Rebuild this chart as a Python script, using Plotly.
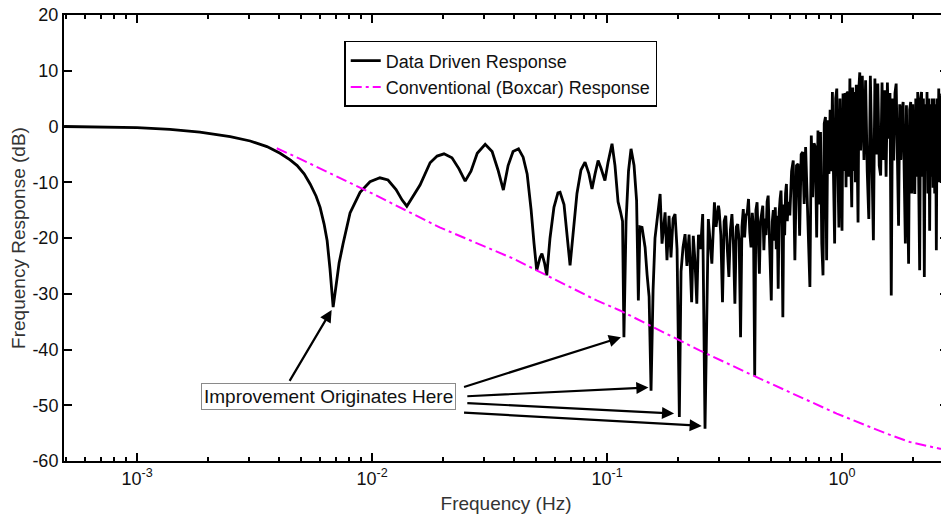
import math
import plotly.graph_objects as go

# Data driven filter response.
# low band: smooth roll-off and first side lobes (up to ~0.3 Hz)
freq_low_hz = [
    4.89e-4, 6.97e-4, 1.0e-3, 1.38e-3, 1.85e-3, 2.49e-3, 3.03e-3, 3.57e-3, 4.06e-3, 4.48e-3,
    4.80e-3, 5.14e-3, 5.45e-3, 5.78e-3, 6.01e-3, 6.25e-3, 6.44e-3, 6.62e-3, 6.83e-3, 7.03e-3,
    7.24e-3, 7.53e-3, 8.06e-3, 8.89e-3, 9.80e-3, 0.0108, 0.01169, 0.01265, 0.01343, 0.01406,
    0.01493, 0.0160, 0.01766, 0.01892, 0.02024, 0.02188, 0.02344, 0.0249, 0.02636, 0.02803,
    0.0303, 0.03243, 0.03436, 0.0362, 0.03793, 0.03981, 0.0420, 0.04395, 0.04571, 0.04753,
    0.0489, 0.0502, 0.05188, 0.05284, 0.0542, 0.0554, 0.05719, 0.05943, 0.0618, 0.0631,
    0.06561, 0.06761, 0.0696, 0.07161, 0.07447, 0.07745, 0.0806, 0.08375, 0.0863, 0.08892,
    0.09162, 0.09427, 0.09795, 0.1009, 0.1050, 0.1081, 0.1114, 0.1141, 0.1164, 0.1180,
    0.1205, 0.1234, 0.1265, 0.1303, 0.1336, 0.1359, 0.1381, 0.1409, 0.1452, 0.1480,
    0.1510, 0.1539, 0.1570, 0.1600, 0.1641, 0.1682, 0.1714, 0.1766, 0.1799, 0.1836,
    0.1871, 0.1910, 0.1947, 0.1986, 0.2031, 0.2065, 0.2105, 0.2148, 0.2188, 0.2234,
    0.2291, 0.2328, 0.2366, 0.2410, 0.2449, 0.2500, 0.2553, 0.2612, 0.2698, 0.2742,
    0.2793, 0.2864, 0.2911, 0.2979,
]
resp_low_db = [
    0.0, -0.1, -0.2, -0.5, -1.0, -1.8, -2.6, -3.6, -4.8, -6.0,
    -7.0, -8.5, -10.3, -12.5, -14.5, -17.5, -20.5, -25.5, -32.4, -28.5,
    -24.5, -21.0, -15.5, -11.8, -9.9, -9.2, -9.6, -11.3, -13.2, -14.3,
    -12.6, -10.5, -6.5, -5.3, -4.9, -5.6, -7.6, -9.8, -8.0, -4.8,
    -3.2, -4.5, -7.8, -11.4, -7.0, -4.5, -4.0, -5.5, -8.5, -15.0,
    -21.0, -25.8, -23.5, -22.8, -24.5, -26.7, -20.0, -14.5, -11.9, -11.8,
    -14.0, -19.0, -24.9, -19.5, -12.0, -7.8, -6.4, -8.5, -11.2, -8.5,
    -6.1, -7.5, -9.7, -6.5, -3.1, -7.0, -13.5, -15.3, -17.0, -37.8,
    -17.0, -8.0, -4.0, -7.0, -13.3, -31.2, -18.0, -18.1, -21.7, -26.5,
    -30.5, -47.4, -29.4, -20.0, -15.5, -12.1, -21.0, -15.4, -24.0, -16.0,
    -23.5, -16.5, -15.7, -22.0, -52.1, -26.0, -21.7, -19.3, -25.0, -19.4,
    -31.5, -19.6, -24.0, -31.8, -19.4, -22.0, -15.7, -54.2, -16.6, -20.0,
    -24.6, -13.6, -18.0, -14.2,
]

# mid band: 0.30 - 0.595 Hz
freq_mid_hz = [
    0.300, 0.305, 0.310, 0.315, 0.320, 0.325, 0.330, 0.335, 0.340, 0.345,
    0.350, 0.355, 0.360, 0.365, 0.370, 0.375, 0.380, 0.385, 0.390, 0.395,
    0.400, 0.405, 0.410, 0.415, 0.420, 0.425, 0.430, 0.435, 0.440, 0.445,
    0.450, 0.455, 0.460, 0.465, 0.470, 0.475, 0.480, 0.485, 0.490, 0.495,
    0.500, 0.505, 0.510, 0.515, 0.520, 0.525, 0.530, 0.535, 0.540, 0.545,
    0.550, 0.555, 0.560, 0.565, 0.570, 0.575, 0.580, 0.585, 0.590, 0.595,
]
resp_mid_db = [
    -15.0, -19.5, -31.5, -17.0, -16.0, -22.0, -27.0, -18.5, -15.7, -21.0,
    -31.8, -18.0, -17.5, -20.5, -37.8, -18.0, -14.8, -19.9, -16.0, -15.5,
    -13.0, -19.0, -21.7, -15.5, -18.0, -44.7, -15.0, -13.6, -20.0, -26.4,
    -17.0, -15.0, -14.2, -22.2, -16.5, -19.5, -13.5, -12.4, -18.0, -24.0,
    -31.2, -17.0, -15.0, -20.5, -14.5, -22.0, -16.0, -29.1, -15.5, -13.0,
    -11.5, -18.0, -34.2, -14.0, -19.5, -12.0, -10.3, -17.0, -13.5, -15.7,
]

# rising band: 0.60 - 1.19 Hz
freq_rise_hz = [
    0.60, 0.61, 0.62, 0.63, 0.64, 0.65, 0.66, 0.67, 0.68, 0.69,
    0.70, 0.71, 0.72, 0.73, 0.74, 0.75, 0.76, 0.77, 0.78, 0.79,
    0.80, 0.81, 0.82, 0.83, 0.84, 0.85, 0.86, 0.87, 0.88, 0.89,
    0.90, 0.91, 0.92, 0.93, 0.94, 0.95, 0.96, 0.97, 0.98, 0.99,
    1.00, 1.01, 1.02, 1.03, 1.04, 1.05, 1.06, 1.07, 1.08, 1.09,
    1.10, 1.11, 1.12, 1.13, 1.14, 1.15, 1.16, 1.17, 1.18, 1.19,
]
resp_rise_db = [
    -15.7, -8.0, -6.1, -24.0, -7.0, -6.7, -19.6, -5.0, -4.6, -13.9,
    -3.7, -12.1, -23.4, -28.8, -1.6, -12.7, -3.0, -3.7, -19.9, -0.7,
    -14.0, -1.0, -21.0, -26.7, 0.5, 1.7, -24.0, 1.1, -8.5, 3.0,
    -8.0, 6.2, -9.0, -21.0, 5.0, 6.8, -8.0, -18.1, 5.0, -7.0,
    -18.7, 5.9, -8.0, 6.0, -10.9, 6.0, 6.2, -9.0, 8.6, -6.0,
    -14.5, 7.0, -8.0, 6.2, -10.0, 7.5, -6.0, -17.2, 7.0, 9.7,
]

# high band: 1.20 - 2.84 Hz
freq_high_hz = [
    1.20, 1.22, 1.24, 1.26, 1.28, 1.30, 1.32, 1.34, 1.36, 1.38,
    1.40, 1.42, 1.44, 1.46, 1.48, 1.50, 1.52, 1.54, 1.56, 1.58,
    1.60, 1.62, 1.64, 1.66, 1.68, 1.70, 1.72, 1.74, 1.76, 1.78,
    1.80, 1.82, 1.84, 1.86, 1.88, 1.90, 1.92, 1.94, 1.96, 1.98,
    2.00, 2.02, 2.04, 2.06, 2.08, 2.10, 2.12, 2.14, 2.16, 2.18,
    2.20, 2.22, 2.24, 2.26, 2.28, 2.30, 2.32, 2.34, 2.36, 2.38,
    2.40, 2.42, 2.44, 2.46, 2.48, 2.50, 2.52, 2.54, 2.56, 2.58,
    2.60, 2.62, 2.64, 2.66, 2.68, 2.70, 2.72, 2.74, 2.76, 2.78,
    2.80, 2.82, 2.84,
]
resp_high_db = [
    -4.3, 9.1, -6.0, 8.3, -8.0, -16.6, 9.1, -6.0, -20.4, 8.6,
    -5.0, 7.7, -7.0, -8.8, 7.9, -6.0, 6.5, -9.0, 7.9, -2.2,
    6.0, -30.3, 5.0, -6.1, 6.0, 7.7, -8.0, -17.8, 4.0, -6.0,
    2.9, 4.4, -9.0, -21.0, 3.8, -10.0, -24.6, 3.0, 4.4, -12.0,
    4.0, -8.0, -12.1, 5.0, -9.0, 6.2, -10.0, -25.8, 5.0, 6.2,
    -9.0, 5.0, -27.0, 4.0, -8.0, 6.2, -12.0, 5.0, -18.7, 4.0,
    -9.0, 5.0, -11.0, 5.0, -12.0, 4.0, -22.2, 5.0, -8.0, 6.8,
    -10.0, -8.5, 5.0, 5.9, -9.0, 5.0, -14.0, 6.0, -6.0, 6.0,
    10.3, -30.3, 4.0,
]

# Conventional boxcar response
boxcar_freq_hz = [0.00393, 0.00494, 0.0100, 0.0194, 0.0399, 0.0903, 0.1135,
                  0.2489, 0.4198, 0.9493, 1.549, 1.946, 2.612, 2.851]
boxcar_db = [-3.9, -5.8, -12.0, -18.1, -23.7, -31.2, -33.0,
             -40.2, -44.7, -51.5, -55.1, -56.6, -57.8, -58.0]

# annotation arrows: tail near the label box, tip on the response
arrow_tail_hz = [0.00442, 0.02427, 0.02506, 0.02506, 0.02427]
arrow_tail_db = [-45.9, -46.8, -48.4, -49.6, -51.3]
arrow_tip_hz = [0.00673, 0.1146, 0.1500, 0.1929, 0.2529]
arrow_tip_db = [-32.9, -37.8, -46.8, -51.5, -53.7]
label_hz = 0.00653
label_db = -48.5
label_text = "Improvement Originates Here"

freq_hz = freq_low_hz + freq_mid_hz + freq_rise_hz + freq_high_hz
response_db = resp_low_db + resp_mid_db + resp_rise_db + resp_high_db
assert len(freq_hz) == len(response_db)

FONT = "Arial, Liberation Sans, sans-serif"

fig = go.Figure()

fig.add_trace(go.Scatter(
    x=freq_hz, y=response_db, mode="lines",
    name="Data Driven Response",
    line=dict(color="black", width=2.8),
))

fig.add_trace(go.Scatter(
    x=boxcar_freq_hz, y=boxcar_db, mode="lines",
    name="Conventional (Boxcar) Response",
    line=dict(color="#ff00ff", width=2, dash="11px,4px,3px,4px"),
))

annotations = []
for th, td, hh, hd in zip(arrow_tail_hz, arrow_tail_db, arrow_tip_hz, arrow_tip_db):
    annotations.append(dict(
        x=math.log10(hh), y=hd, ax=math.log10(th), ay=td,
        xref="x", yref="y", axref="x", ayref="y",
        text="", showarrow=True, arrowhead=2, arrowsize=1.1,
        arrowwidth=2.2, arrowcolor="black", standoff=0,
    ))

annotations.append(dict(
    x=math.log10(label_hz), y=label_db, xref="x", yref="y",
    text=label_text, showarrow=False,
    font=dict(family=FONT, size=19, color="#111111"),
    bgcolor="white", bordercolor="#8a8a8a", borderwidth=1, borderpad=2,
))

decades = [0.001, 0.01, 0.1, 1]
decade_labels = ["10<sup>-3</sup>", "10<sup>-2</sup>", "10<sup>-1</sup>", "10<sup>0</sup>"]
db_ticks = [-60, -50, -40, -30, -20, -10, 0, 10, 20]

# the page body adds an 8px offset, margins compensate for it
fig.update_layout(
    width=949, height=519,
    margin=dict(l=56, r=9, t=7, b=66),
    paper_bgcolor="white", plot_bgcolor="white",
    font=dict(family=FONT, size=18, color="#111111"),
    showlegend=True,
    legend=dict(
        x=0.317, y=0.942, xanchor="left", yanchor="top",
        bordercolor="black", borderwidth=1.5, bgcolor="white",
        font=dict(family=FONT, size=18, color="#111111"),
        itemwidth=30, tracegroupgap=0,
    ),
    annotations=annotations,
)

fig.update_xaxes(
    type="log", range=[-3.311, 0.451], automargin=False,
    tickmode="array", tickvals=decades, ticktext=decade_labels,
    ticks="inside", ticklen=8, tickwidth=1.5, tickcolor="black",
    minor=dict(dtick="D1", ticks="inside", ticklen=4, tickwidth=1.5, tickcolor="black", showgrid=False),
    showline=True, linecolor="black", linewidth=2, mirror="allticks",
    showgrid=False, zeroline=False, ticklabeloverflow="allow",
    tickfont=dict(family=FONT, size=18, color="#111111"),
    title=dict(text="Frequency (Hz)", font=dict(family=FONT, size=19, color="#333333"), standoff=9),
)

fig.update_yaxes(
    range=[-60, 20], automargin=False,
    tickmode="array", tickvals=db_ticks, ticktext=[str(v) for v in db_ticks],
    ticks="inside", ticklen=8, tickwidth=1.5, tickcolor="black",
    showline=True, linecolor="black", linewidth=2, mirror="allticks",
    showgrid=False, zeroline=False, ticklabeloverflow="allow",
    tickfont=dict(family=FONT, size=18, color="#111111"),
    title=dict(text="Frequency Response (dB)", font=dict(family=FONT, size=19, color="#333333"), standoff=4),
)

fig.write_html("out.html")
